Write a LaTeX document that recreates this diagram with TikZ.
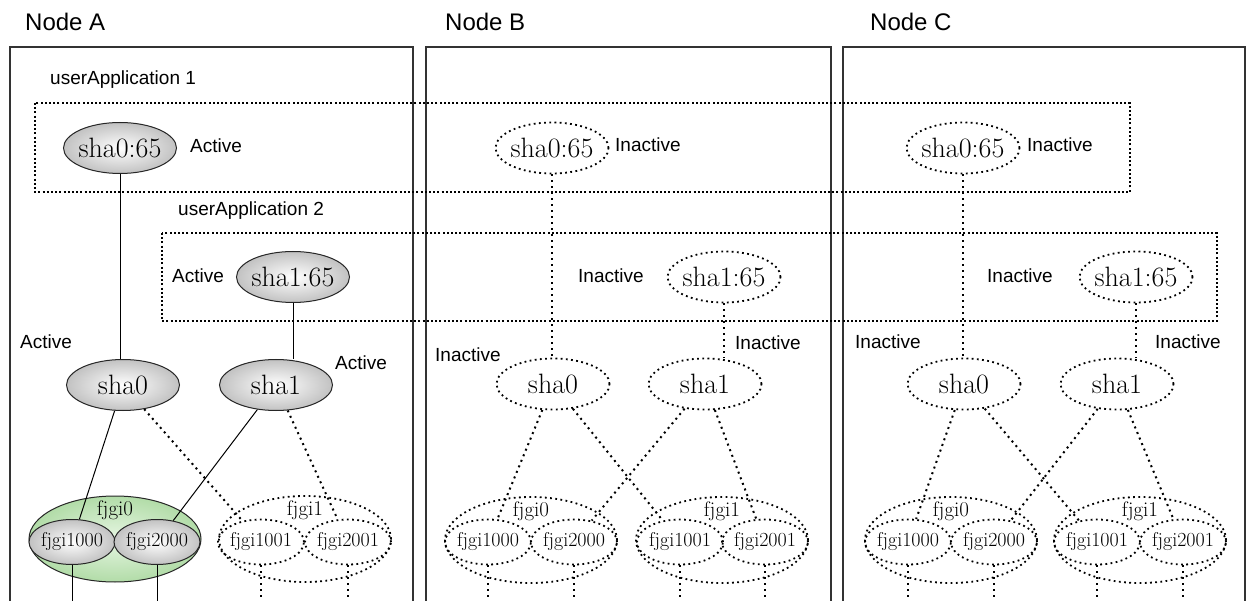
\documentclass[tikz,border=0pt]{standalone}
\usepackage{fontspec}
\setsansfont{Liberation Sans}
\usetikzlibrary{shapes.geometric}

\tikzset{
  nodebox/.style={draw=black!80,line width=1.4pt},
  uabox/.style={draw=black,line width=2pt,dash pattern=on 2pt off 2.2pt},
  title/.style={anchor=west,inner sep=0pt,font=\sffamily\fontsize{24}{24}\selectfont},
  lbl/.style={anchor=west,inner sep=0pt,font=\sffamily\fontsize{19}{19}\selectfont},
  res/.style={ellipse,minimum width=113pt,minimum height=51pt,inner xsep=-14pt,inner ysep=0pt,font=\fontsize{28}{28}\selectfont},
  grp/.style={ellipse,minimum width=172pt,minimum height=86pt,inner sep=0pt},
  fj/.style={ellipse,minimum width=86pt,minimum height=45pt,inner xsep=-12pt,inner ysep=0pt,font=\fontsize{20}{20}\selectfont},
  fjlbl/.style={anchor=north,inner sep=0pt,yshift=-5pt,font=\fontsize{21}{21}\selectfont},
  actv/.style={draw=black!85,line width=1pt,inner color=white,outer color=black!24},
  inactv/.style={draw=black,line width=1.8pt,dash pattern=on 1.8pt off 3.4pt},
  grpact/.style={draw=black!85,line width=1pt,inner color={rgb,255:red,230;green,246;blue,226},outer color={rgb,255:red,178;green,220;blue,168}},
  actline/.style={line width=1pt},
  offline/.style={line width=2pt,dash pattern=on 2pt off 4pt}
}

\begin{document}
\begin{tikzpicture}[x=1pt,y=-1pt]
  \useasboundingbox (0,0) rectangle (1247,601);
  \coordinate (bot) at (0,601);

  % node frames
  \node[title] (tA) at (25,22) {Node A};
  \node[title] (tB) at (445,22) {Node B};
  \node[title] (tC) at (870,22) {Node C};
  \draw[nodebox] (10,601) |- (413,47) -- (413,601);
  \draw[nodebox] (426,601) |- (831,47) -- (831,601);
  \draw[nodebox] (843,601) |- (1245,47) -- (1245,601);

  % userApplications
  \node[lbl] (ua1) at (50,80) {userApplication 1};
  \draw[uabox] (35,103) rectangle (1130,192);
  \node[lbl] (ua2) at (178,211) {userApplication 2};
  \draw[uabox] (162,233) rectangle (1217,321);

  % Node A
  \node[res,actv] (s065a) at (120,148) {sha0:65};
  \node[lbl] at (190,146) {Active};
  \node[res,actv] (s165a) at (293,277) {sha1:65};
  \node[lbl] at (172,276) {Active};
  \node[res,actv] (s0a) at (123,385) {sha0};
  \node[res,actv] (s1a) at (276,385) {sha1};
  \node[lbl] at (20,342) {Active};
  \node[lbl] at (335,363) {Active};
  \node[grp,grpact,label={[fjlbl]north:fjgi0}] (g0a) at (115,539) {};
  \node[fj,actv] (f1000a) at (72,542) {fjgi1000};
  \node[fj,actv] (f2000a) at (157,542) {fjgi2000};
  \node[grp,inactv,label={[fjlbl]north:fjgi1}] (g1a) at (305,539) {};
  \node[fj,inactv] (f1001a) at (261,542) {fjgi1001};
  \node[fj,inactv] (f2001a) at (348,542) {fjgi2001};

  \draw[actline] (s065a.south) -- (s065a.south |- s0a.north);
  \draw[actline] (s165a.south) -- (s165a.south |- s1a.north);
  \draw[actline] (s0a) -- (f1000a);
  \draw[actline] (s1a) -- (f2000a);
  \draw[offline] (s0a) -- (f1001a);
  \draw[offline] (s1a) -- (f2001a);
  \draw[actline] (f1000a.south) -- (f1000a.south |- bot);
  \draw[actline] (f2000a.south) -- (f2000a.south |- bot);
  \draw[offline] (f1001a.south) -- (f1001a.south |- bot);
  \draw[offline] (f2001a.south) -- (f2001a.south |- bot);

  % Node B
  \node[res,inactv] (s065b) at (552,148) {sha0:65};
  \node[lbl] at (615,145) {Inactive};
  \node[res,inactv] (s165b) at (724,277) {sha1:65};
  \node[lbl] at (578,276) {Inactive};
  \node[res,inactv] (s0b) at (553,384) {sha0};
  \node[res,inactv] (s1b) at (705,384) {sha1};
  \node[lbl] at (435,355) {Inactive};
  \node[lbl] at (735,343) {Inactive};
  \node[grp,inactv,label={[fjlbl]north:fjgi0}] (g0b) at (531,540) {};
  \node[fj,inactv] (f1000b) at (488,542) {fjgi1000};
  \node[fj,inactv] (f2000b) at (574,542) {fjgi2000};
  \node[grp,inactv,label={[fjlbl]north:fjgi1}] (g1b) at (722,540) {};
  \node[fj,inactv] (f1001b) at (680,542) {fjgi1001};
  \node[fj,inactv] (f2001b) at (765,542) {fjgi2001};

  \draw[offline] (s065b.south) -- (s065b.south |- s0b.north);
  \draw[offline] (s165b.south) -- (s165b.south |- s1b.north);
  \draw[offline] (s0b) -- (f1000b);
  \draw[offline] (s1b) -- (f2000b);
  \draw[offline] (s0b) -- (f1001b);
  \draw[offline] (s1b) -- (f2001b);
  \draw[offline] (f1000b.south) -- (f1000b.south |- bot);
  \draw[offline] (f2000b.south) -- (f2000b.south |- bot);
  \draw[offline] (f1001b.south) -- (f1001b.south |- bot);
  \draw[offline] (f2001b.south) -- (f2001b.south |- bot);

  % Node C
  \node[res,inactv] (s065c) at (963,148) {sha0:65};
  \node[lbl] at (1027,145) {Inactive};
  \node[res,inactv] (s165c) at (1136,277) {sha1:65};
  \node[lbl] at (987,276) {Inactive};
  \node[res,inactv] (s0c) at (964,384) {sha0};
  \node[res,inactv] (s1c) at (1117,384) {sha1};
  \node[lbl] at (855,342) {Inactive};
  \node[lbl] at (1155,342) {Inactive};
  \node[grp,inactv,label={[fjlbl]north:fjgi0}] (g0c) at (951,540) {};
  \node[fj,inactv] (f1000c) at (908,542) {fjgi1000};
  \node[fj,inactv] (f2000c) at (994,542) {fjgi2000};
  \node[grp,inactv,label={[fjlbl]north:fjgi1}] (g1c) at (1140,540) {};
  \node[fj,inactv] (f1001c) at (1097,542) {fjgi1001};
  \node[fj,inactv] (f2001c) at (1183,542) {fjgi2001};

  \draw[offline] (s065c.south) -- (s065c.south |- s0c.north);
  \draw[offline] (s165c.south) -- (s165c.south |- s1c.north);
  \draw[offline] (s0c) -- (f1000c);
  \draw[offline] (s1c) -- (f2000c);
  \draw[offline] (s0c) -- (f1001c);
  \draw[offline] (s1c) -- (f2001c);
  \draw[offline] (f1000c.south) -- (f1000c.south |- bot);
  \draw[offline] (f2000c.south) -- (f2000c.south |- bot);
  \draw[offline] (f1001c.south) -- (f1001c.south |- bot);
  \draw[offline] (f2001c.south) -- (f2001c.south |- bot);
\end{tikzpicture}
\end{document}
